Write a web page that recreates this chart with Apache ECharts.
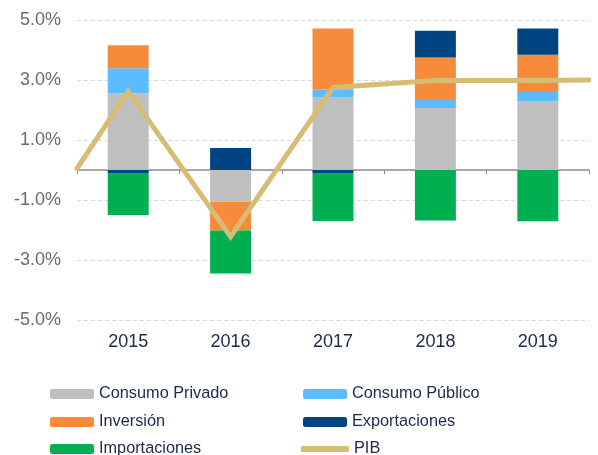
<!DOCTYPE html>
<html>
<head>
<meta charset="utf-8">
<script src="https://cdn.jsdelivr.net/npm/echarts@6/dist/echarts.min.js"></script>
<style>html,body{margin:0;padding:0;background:#fff;}#c{width:598px;height:455px;}</style>
</head>
<body>
<div id="c"></div>
<script>
const years = ['2015', '2016', '2017', '2018', '2019'];
const consumoPrivado = [2.55, -1.06, 2.42, 2.07, 2.29];
const consumoPublico = [0.84, 0, 0.26, 0.26, 0.31];
const inversion = [0.77, -0.96, 2.04, 1.42, 1.24];
const exportaciones = [-0.10, 0.73, -0.10, 0.89, 0.88];
const importaciones = [-1.40, -1.43, -1.60, -1.68, -1.71];
const pib = [2.62, -2.22, 2.75, 2.98, 2.98];
const pibStart = 0.05;
const pibEnd = 3.0;
const yTicks = [-5, -3, -1, 1, 3, 5];

const colors = {
  cp: '#BFBFBF', cpub: '#5BBDFF', inv: '#F68B3B', exp: '#004481', imp: '#00B050', pib: '#D7BD74'
};
const textColor = '#1B2A4A';

// PIB line positions derived from the category index (centre = index + 0.5) on a hidden value axis spanning the categories
const pibData = [[0, pibStart]].concat(pib.map((v, i) => [i + 0.5, v])).concat([[years.length, pibEnd]]);

function bar(name, data, color) {
  return { name, type: 'bar', stack: 'total', data, barWidth: '40%', xAxisIndex: 0,
    itemStyle: { color }, emphasis: { disabled: true } };
}

function leg(name, left, top, extra) {
  return Object.assign({
    left, top, padding: 0, itemWidth: 44, itemHeight: 10, itemGap: 5,
    textStyle: { color: textColor, fontSize: 16.3 }, data: [name]
  }, extra || {});
}

const chart = echarts.init(document.getElementById('c'));
chart.setOption({
  animation: false,
  textStyle: { fontFamily: 'Liberation Sans, Arial, sans-serif' },
  grid: { left: 77, right: 9, top: 20, bottom: 135, outerBoundsMode: 'none' },
  xAxis: [{
    type: 'category', data: years,
    axisLine: { onZero: true, lineStyle: { color: '#8C8C8C', width: 1.5 } },
    axisTick: { show: true, length: 4, lineStyle: { color: '#8C8C8C' } },
    axisLabel: { show: false }
  }, {
    type: 'value', min: 0, max: years.length, show: false
  }, {
    type: 'category', data: years, position: 'bottom',
    axisLine: { show: false, onZero: false }, axisTick: { show: false },
    axisLabel: { color: textColor, fontSize: 18, margin: 13 }
  }],
  yAxis: {
    type: 'value', min: yTicks[0], max: yTicks[yTicks.length - 1], interval: 2,
    axisLine: { show: false }, axisTick: { show: false },
    axisLabel: { color: '#6B6B6B', fontSize: 18, margin: 16, formatter: v => v.toFixed(1) + '%' },
    splitLine: { show: true, lineStyle: { color: '#D9D9D9', type: [4, 3], width: 1 } }
  },
  legend: [
    leg('Consumo Privado', 50, 386),
    leg('Inversión', 50, 414),
    leg('Importaciones', 50, 441),
    leg('Consumo Público', 303, 386),
    leg('Exportaciones', 303, 414),
    leg({ name: 'PIB', icon: 'roundRect' }, 301, 441, { itemWidth: 48, itemHeight: 6, itemGap: 4 })
  ],
  series: [
    bar('Consumo Privado', consumoPrivado, colors.cp),
    bar('Consumo Público', consumoPublico, colors.cpub),
    bar('Inversión', inversion, colors.inv),
    bar('Exportaciones', exportaciones, colors.exp),
    bar('Importaciones', importaciones, colors.imp),
    {
      name: 'PIB', type: 'line', xAxisIndex: 1, data: pibData, symbol: 'none',
      lineStyle: { color: colors.pib, width: 5, cap: 'round', join: 'miter' },
      itemStyle: { color: colors.pib }, emphasis: { disabled: true }, z: 5
    }
  ]
});
</script>
</body>
</html>
